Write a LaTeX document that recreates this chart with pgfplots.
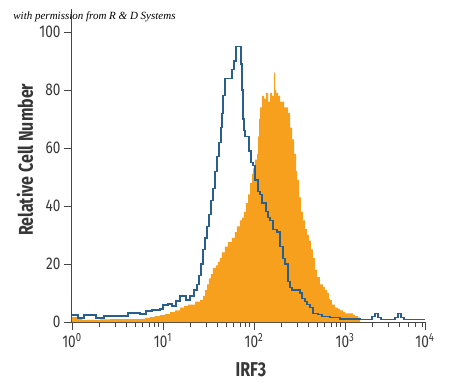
\documentclass[border=0pt]{standalone}
\usepackage{pgfplots}
\usepackage{pgfplotstable}
\pgfplotsset{compat=1.18}
\usepackage{fontspec}
\setmainfont{Fira Sans}[FakeStretch=0.8]
\newfontfamily\permfont{Liberation Serif}
\definecolor{historange}{RGB}{247,160,30}
\definecolor{histblue}{RGB}{40,95,140}
\definecolor{axisgrey}{RGB}{70,70,70}
\definecolor{textgrey}{RGB}{55,55,55}

% L = log10 of intensity
\pgfplotstableread{
L value
0.000 1.7
0.066 1.0
0.110 0.7
0.308 0.9
0.418 1.0
0.637 1.0
0.802 1.4
0.857 1.7
0.912 2.0
0.967 2.4
1.022 2.7
1.077 3.4
1.132 4.0
1.187 5.0
1.231 5.5
1.275 6.0
1.352 7.0
1.407 7.6
1.440 9
1.462 11
1.484 13
1.505 15
1.527 16.5
1.549 18.6
1.582 19.5
1.604 20.7
1.626 22
1.648 24
1.681 26
1.714 27.5
1.758 29
1.791 31
1.813 33
1.846 35
1.868 36
1.890 38
1.912 41
1.934 44
1.956 48
1.978 51
1.989 53
2.011 56
2.033 58
2.044 64
2.055 70
2.066 74
2.088 78
2.110 77
2.132 79
2.154 76
2.176 79
2.198 78
2.220 86
2.231 80
2.242 79
2.264 78
2.286 76
2.308 76
2.330 74
2.352 74
2.374 72
2.396 67
2.418 63
2.440 58
2.462 52
2.473 49
2.495 43
2.516 38
2.538 35
2.560 32
2.582 30
2.604 28
2.626 25
2.648 22
2.670 18
2.692 15.5
2.725 13
2.758 12
2.780 11
2.802 10
2.824 8
2.835 7.5
2.857 6
2.890 5
2.923 4.5
2.945 4
2.978 3.5
3.000 3
3.055 3
3.088 2.5
3.110 2
3.143 1.5
3.165 0
}\orangedata

\pgfplotstableread{
L value
0.000 2.4
0.066 1.4
0.132 2.4
0.264 1.4
0.352 2.1
0.615 3.1
0.747 2.8
0.813 3.8
0.879 4.1
0.967 4.5
1.000 5.9
1.055 6.2
1.099 5.5
1.143 7.2
1.187 9
1.253 7.6
1.297 9
1.341 11
1.374 13
1.396 16
1.418 20
1.440 25
1.462 29
1.484 33
1.505 37
1.527 42
1.549 46
1.571 52
1.593 57
1.615 62
1.637 67
1.648 72
1.659 78
1.681 84
1.758 87
1.780 90
1.802 95
1.857 89
1.868 80
1.879 70
1.890 66
1.901 64
1.945 59
1.967 55
1.989 54
2.011 49
2.044 45
2.066 44
2.088 41
2.132 38
2.154 36
2.176 35
2.209 32
2.253 31
2.286 26
2.319 22
2.341 20
2.374 14
2.396 12
2.418 11
2.505 10
2.527 8
2.560 7
2.582 6
2.615 5
2.648 3
2.703 2.5
2.747 2
2.835 1.5
2.945 1
3.165 0.8
3.297 2
3.330 3
3.363 1.5
3.396 0.8
3.549 1.5
3.582 3
3.615 1.5
3.648 0.8
3.879 0.8
}\bluedata

\begin{document}
\begin{tikzpicture}
\path[use as bounding box] (-72pt,-66pt) rectangle (378pt,322pt);
\begin{axis}[
  at={(0pt,0pt)}, anchor=south west,
  scale only axis,
  width=353pt, height=313.2pt,
  xmode=log,
  xmin=1, xmax=7568,
  ymin=0, ymax=108,
  axis x line*=bottom, axis y line*=left,
  axis line style={-, draw=axisgrey, line width=1pt},
  clip=false,
  xtick={1,10,100,1000,7568},
  xticklabels={10\textsuperscript{0},10\textsuperscript{1},10\textsuperscript{2},10\textsuperscript{3},10\textsuperscript{4}},
  minor xtick={2,3,4,5,6,7,8,9,20,30,40,50,60,70,80,90,200,300,400,500,600,700,800,900,2000,3000,4000,5000,6000,7000},
  ytick={0,20,40,60,80,100},
  tick align=outside,
  major tick length=8pt,
  minor tick length=5pt,
  every tick/.style={draw=axisgrey, line width=0.8pt},
  /pgf/number format/assume math mode=true,
  tick label style={font=\fontsize{17}{17}\selectfont, text=textgrey},
  xlabel={IRF3},
  ylabel={Relative Cell Number},
  label style={font=\bfseries\fontsize{20}{20}\selectfont, text=textgrey},
  xlabel style={at={(axis description cs:0.507,-0.153)}, anchor=center},
  ylabel style={at={(axis description cs:-0.133,0.518)}, anchor=center},
]
\addplot[fill=historange, draw=none, const plot] table[x expr={10^\thisrow{L}}, y=value] {\orangedata} \closedcycle;
\addplot[draw=histblue, line width=1.3pt, const plot] table[x expr={10^\thisrow{L}}, y=value] {\bluedata};
\node[anchor=base west, font=\permfont\itshape\fontsize{11}{11}\selectfont, text=black] at (axis description cs:-0.176,0.967) {with permission from R \& D Systems};
\end{axis}
\end{tikzpicture}
\end{document}
